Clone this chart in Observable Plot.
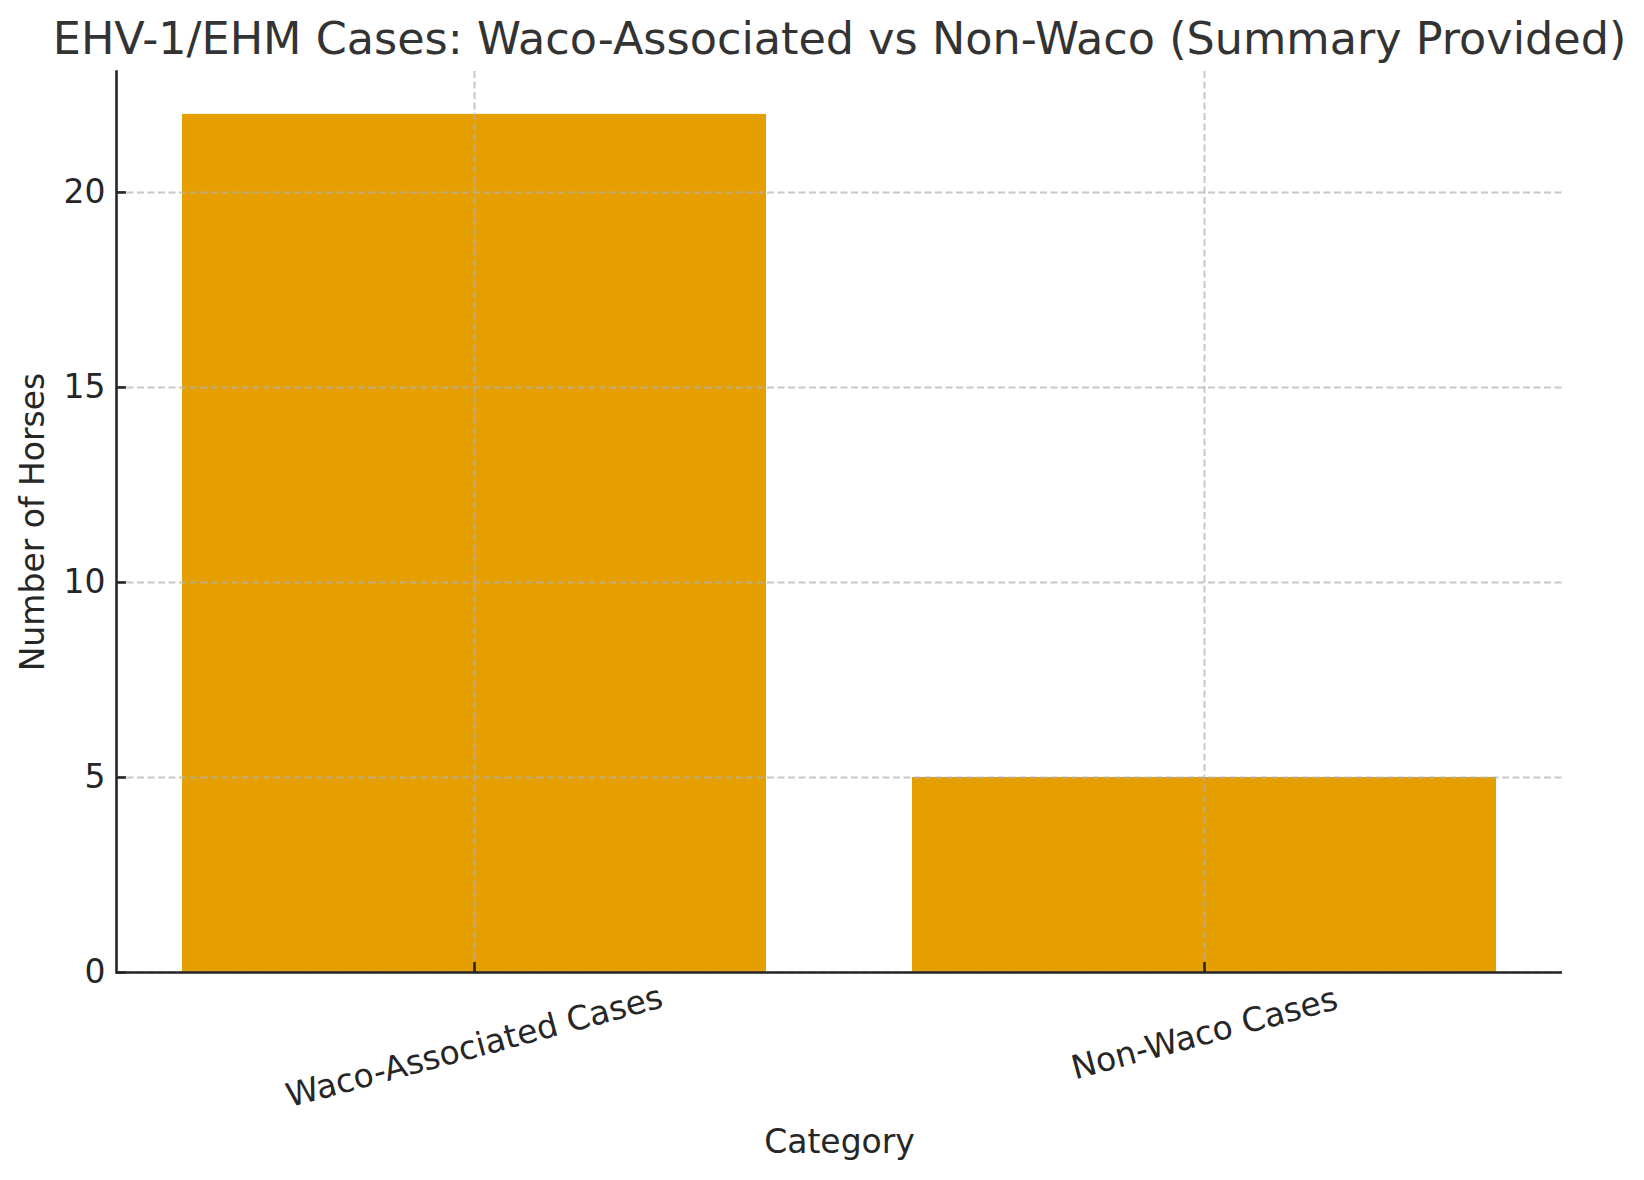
<!DOCTYPE html>
<html>
<head>
<meta charset="utf-8">
<script src="https://cdn.jsdelivr.net/npm/d3@7"></script>
<script src="https://cdn.jsdelivr.net/npm/@observablehq/plot@0.6"></script>
<style>
  html, body { margin: 0; padding: 0; background: #fff; }
  #chart { width: 1644px; height: 1180px; }
</style>
</head>
<body>
<div id="chart"></div>
<script>
const categories = ["Waco-Associated Cases", "Non-Waco Cases"];
const counts = [22, 5];
const yTicks = [0, 5, 10, 15, 20];
const titleText = "EHV-1/EHM Cases: Waco-Associated vs Non-Waco (Summary Provided)";
const xLabel = "Category";
const yLabel = "Number of Horses";

const data = categories.map((c, i) => ({category: c, count: counts[i]}));

const gridStyle = {stroke: "#b0b0b0", strokeOpacity: 0.7, strokeWidth: 2, strokeDasharray: "7,3.5"};
const ink = "#262626";
const fs = 33;

const tickLabelMarks = categories.map(c =>
  Plot.text([c], {
    x: d => d,
    frameAnchor: "bottom",
    rotate: -15,
    textAnchor: "middle",
    lineAnchor: "middle",
    dy: 35 + 1.875 * c.length,
    fontSize: fs,
    fill: ink
  })
);

const chart = Plot.plot({
  width: 1644,
  height: 1180,
  marginLeft: 116,
  marginRight: 82,
  marginTop: 71,
  marginBottom: 208,
  style: {fontFamily: "DejaVu Sans, sans-serif", background: "#fff", color: ink},
  x: {type: "band", domain: categories, paddingInner: 0.2, paddingOuter: 0.09, align: 0.5},
  y: {domain: [0, 22 * 1.05]},
  marks: [
    Plot.barY(data, {x: "category", y: "count", fill: "#E69F00"}),
    Plot.gridY(yTicks, gridStyle),
    Plot.gridX(categories, gridStyle),
    Plot.axisY(yTicks, {tickSize: -10, tickPadding: 21, strokeWidth: 2.6, stroke: ink, fontSize: fs, fill: ink, label: null, tickFormat: d => String(d)}),
    Plot.axisX(categories, {tickSize: -10, strokeWidth: 2.6, stroke: ink, label: null, tickFormat: () => ""}),
    Plot.frame({anchor: "left", stroke: ink, strokeWidth: 2.6}),
    Plot.ruleY([0], {stroke: ink, strokeWidth: 2.6}),
    ...tickLabelMarks,
    Plot.text([yLabel], {frameAnchor: "left", dx: -83.5, rotate: -90, textAnchor: "middle", lineAnchor: "middle", fontSize: fs, fill: ink}),
    Plot.text([xLabel], {frameAnchor: "bottom", dy: 170, textAnchor: "middle", lineAnchor: "middle", fontSize: fs, fill: ink}),
    Plot.text([titleText], {frameAnchor: "top", dy: -32, textAnchor: "middle", lineAnchor: "middle", fontSize: 44.5, fill: "#333333"})
  ]
});
document.getElementById("chart").appendChild(chart);
</script>
</body>
</html>
